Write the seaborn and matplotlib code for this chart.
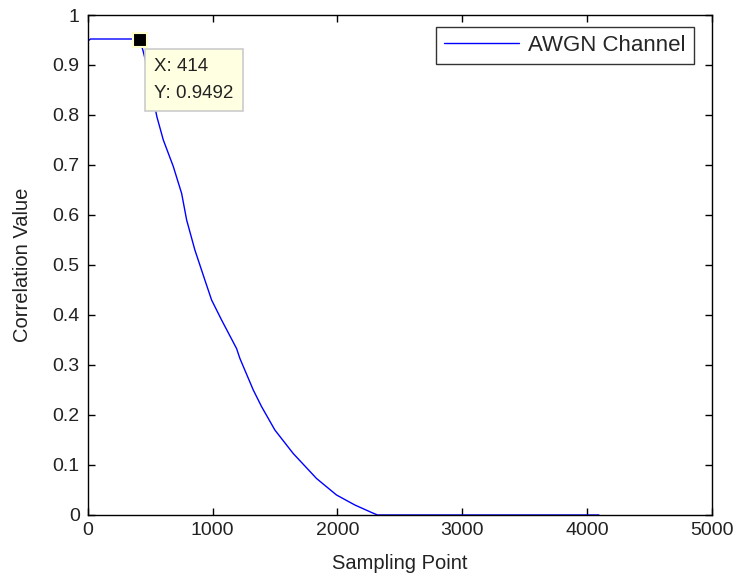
import numpy as np
import pandas as pd
import matplotlib
matplotlib.use("Agg")
import matplotlib.pyplot as plt
import seaborn as sns

# Correlation curve (AWGN channel)
sample_points = [0, 20, 400, 414, 440, 470, 500, 553, 604, 684, 751, 791, 857, 937,
                 991, 1071, 1191, 1218, 1325, 1391, 1498, 1645, 1832, 1992, 2139,
                 2273, 2320, 3000, 4096]
corr_values = [0.948, 0.952, 0.952, 0.9492, 0.93, 0.90, 0.86, 0.796, 0.75, 0.697,
               0.643, 0.59, 0.53, 0.47, 0.43, 0.39, 0.333, 0.313, 0.25, 0.217, 0.17,
               0.123, 0.073, 0.04, 0.02, 0.005, 0.0, 0.0, 0.0]
series_label = "AWGN Channel"
tip_x, tip_y = 414, 0.9492

x_ticks = [0, 1000, 2000, 3000, 4000, 5000]
y_ticks = [0, 0.1, 0.2, 0.3, 0.4, 0.5, 0.6, 0.7, 0.8, 0.9, 1]
y_tick_labels = ["0", "0.1", "0.2", "0.3", "0.4", "0.5", "0.6", "0.7", "0.8", "0.9", "1"]

df = pd.DataFrame({"Sampling Point": sample_points, "Correlation Value": corr_values})

sns.set_theme(style="ticks")
plt.rcParams["font.family"] = ["Liberation Sans", "DejaVu Sans"]

fig = plt.figure(figsize=(7.33, 5.77), dpi=100)
ax = fig.add_axes([0.120, 0.1075, 0.851, 0.8665])

sns.lineplot(data=df, x="Sampling Point", y="Correlation Value", sort=False,
             color="#0000ff", linewidth=1.0, label=series_label, ax=ax)

# data tip marker
ax.plot([tip_x], [tip_y], marker="s", markersize=10, color="black",
        markeredgecolor="#ffffcc", markeredgewidth=1.5, zorder=5)
ax.annotate(f"X: {tip_x}\nY: {tip_y}", xy=(tip_x, tip_y), xytext=(10.5, -13),
            textcoords="offset points", ha="left", va="top", fontsize=13.5,
            color="#222222", linespacing=1.7,
            bbox=dict(boxstyle="square,pad=0.5", facecolor="#ffffe1",
                      edgecolor="#cccccc", linewidth=1.2))

ax.set_xlim(0, 5000)
ax.set_ylim(0, 1)
ax.set_xticks(x_ticks)
ax.set_yticks(y_ticks)
ax.set_yticklabels(y_tick_labels)
ax.tick_params(direction="in", length=5, width=1, colors="black", labelsize=14,
               labelcolor="#222222", top=True, right=True)
ax.tick_params(axis="x", pad=5)
ax.tick_params(axis="y", pad=6)
for s in ax.spines.values():
    s.set_visible(True)
    s.set_linewidth(1.0)
    s.set_color("black")

ax.set_xlabel("Sampling Point", fontsize=14.5, color="#222222", labelpad=11)
ax.set_ylabel("Correlation Value", fontsize=14.5, color="#222222", labelpad=15)

leg = ax.legend(loc="upper right", bbox_to_anchor=(0.971, 0.976), borderaxespad=0,
                fontsize=16, frameon=True, fancybox=False, handlelength=3.4,
                handletextpad=0.4, borderpad=0.35)
leg.get_frame().set_edgecolor("black")
leg.get_frame().set_linewidth(1.0)

fig.savefig("out.png", dpi=100)
